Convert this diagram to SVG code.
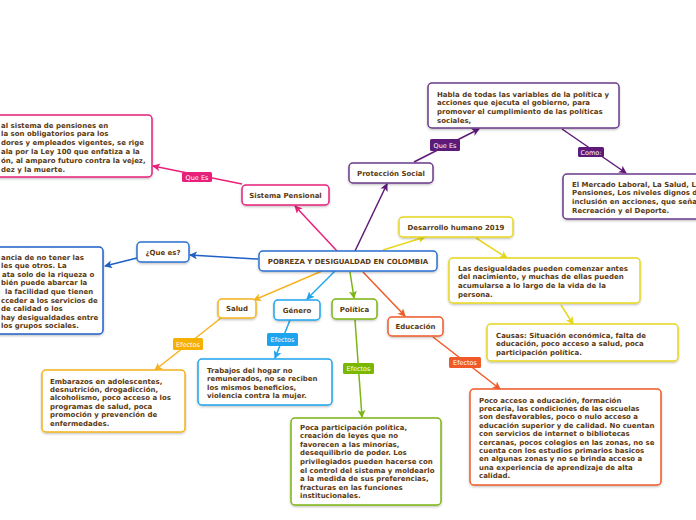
<svg xmlns="http://www.w3.org/2000/svg" width="696" height="520" viewBox="0 0 696 520">
<style>
text{font-family:"DejaVu Sans","Liberation Sans",sans-serif;}
.t{font-size:7px;font-weight:bold;fill:#5b3a12;}
.n{font-size:7px;font-weight:bold;fill:#5b3a12;text-anchor:middle;}
.lb{font-size:6.5px;fill:#ffffff;text-anchor:middle;}
.box{fill:#ffffff;stroke-width:1.5;filter:url(#sh);}
.c{fill:none;stroke-width:1.5;}
</style>
<defs>
<filter id="sh" x="-10%" y="-20%" width="120%" height="150%">
<feDropShadow dx="0" dy="1.2" stdDeviation="0.8" flood-color="#000" flood-opacity="0.25"/>
</filter>
<marker id="aPk" markerWidth="8" markerHeight="8" refX="7" refY="4" orient="auto" markerUnits="userSpaceOnUse"><path d="M0,0 L8,4 L0,8 L2,4 z" fill="#e8207a"/></marker>
<marker id="aPu" markerWidth="8" markerHeight="8" refX="7" refY="4" orient="auto" markerUnits="userSpaceOnUse"><path d="M0,0 L8,4 L0,8 L2,4 z" fill="#5e1a78"/></marker>
<marker id="aYe" markerWidth="8" markerHeight="8" refX="7" refY="4" orient="auto" markerUnits="userSpaceOnUse"><path d="M0,0 L8,4 L0,8 L2,4 z" fill="#e6d81e"/></marker>
<marker id="aBl" markerWidth="8" markerHeight="8" refX="7" refY="4" orient="auto" markerUnits="userSpaceOnUse"><path d="M0,0 L8,4 L0,8 L2,4 z" fill="#1f5fc8"/></marker>
<marker id="aOr" markerWidth="8" markerHeight="8" refX="7" refY="4" orient="auto" markerUnits="userSpaceOnUse"><path d="M0,0 L8,4 L0,8 L2,4 z" fill="#f5b21e"/></marker>
<marker id="aSk" markerWidth="8" markerHeight="8" refX="7" refY="4" orient="auto" markerUnits="userSpaceOnUse"><path d="M0,0 L8,4 L0,8 L2,4 z" fill="#1ea4ee"/></marker>
<marker id="aGr" markerWidth="8" markerHeight="8" refX="7" refY="4" orient="auto" markerUnits="userSpaceOnUse"><path d="M0,0 L8,4 L0,8 L2,4 z" fill="#7cb514"/></marker>
<marker id="aRd" markerWidth="8" markerHeight="8" refX="7" refY="4" orient="auto" markerUnits="userSpaceOnUse"><path d="M0,0 L8,4 L0,8 L2,4 z" fill="#f05a28"/></marker>
</defs>

<g id="connectors">
<line class="c" stroke="#e8207a" x1="337" y1="251" x2="295" y2="206" marker-end="url(#aPk)"/>
<line class="c" stroke="#e8207a" x1="242" y1="184" x2="153" y2="166" marker-end="url(#aPk)"/>
<line class="c" stroke="#5e1a78" x1="355" y1="251" x2="387" y2="184" marker-end="url(#aPu)"/>
<line class="c" stroke="#5e1a78" x1="414" y1="162" x2="479" y2="129" marker-end="url(#aPu)"/>
<line class="c" stroke="#5e1a78" x1="562" y1="129" x2="626" y2="173" marker-end="url(#aPu)"/>
<line class="c" stroke="#e6d81e" x1="383" y1="250" x2="425" y2="237" marker-end="url(#aYe)"/>
<line class="c" stroke="#e6d81e" x1="476" y1="238" x2="507" y2="258" marker-end="url(#aYe)"/>
<line class="c" stroke="#e6d81e" x1="561" y1="305" x2="573" y2="324" marker-end="url(#aYe)"/>
<line class="c" stroke="#1f5fc8" x1="258" y1="259" x2="190" y2="255" marker-end="url(#aBl)"/>
<line class="c" stroke="#1f5fc8" x1="137" y1="258" x2="105" y2="266" marker-end="url(#aBl)"/>
<line class="c" stroke="#f5b21e" x1="322" y1="271" x2="254" y2="300" marker-end="url(#aOr)"/>
<line class="c" stroke="#f5b21e" x1="221" y1="318" x2="155" y2="370" marker-end="url(#aOr)"/>
<line class="c" stroke="#1ea4ee" x1="335" y1="271" x2="307" y2="299" marker-end="url(#aSk)"/>
<line class="c" stroke="#1ea4ee" x1="290" y1="320" x2="275" y2="358" marker-end="url(#aSk)"/>
<line class="c" stroke="#7cb514" x1="350" y1="272" x2="354" y2="298" marker-end="url(#aGr)"/>
<line class="c" stroke="#7cb514" x1="355" y1="320" x2="362" y2="417" marker-end="url(#aGr)"/>
<line class="c" stroke="#f05a28" x1="363" y1="272" x2="405" y2="316" marker-end="url(#aRd)"/>
<line class="c" stroke="#f05a28" x1="433" y1="337" x2="500" y2="389" marker-end="url(#aRd)"/>

<rect x="182" y="172" width="30" height="10" rx="1.5" fill="#e8207a"/>
<text class="lb" x="197" y="179.5">Que Es</text>
<rect x="430" y="139" width="30" height="12" rx="1.5" fill="#5e1a78"/>
<text class="lb" x="445" y="147.5">Que Es</text>
<rect x="578" y="147" width="26" height="10" rx="1.5" fill="#5e1a78"/>
<text class="lb" x="591" y="154.5">Como:</text>
<rect x="173" y="338" width="30" height="12" rx="1.5" fill="#f5b000"/>
<text class="lb" x="188" y="346.5">Efectos</text>
<rect x="267" y="333" width="31" height="13" rx="1.5" fill="#1ea4ee"/>
<text class="lb" x="282.5" y="342">Efectos</text>
<rect x="343" y="363" width="31" height="11" rx="1.5" fill="#7ab800"/>
<text class="lb" x="358.5" y="371">Efectos</text>
<rect x="449" y="357" width="32" height="11" rx="1.5" fill="#f05a28"/>
<text class="lb" x="465" y="365">Efectos</text>
</g>

<g id="n-center">
<rect class="box" x="259" y="251" width="178" height="20" rx="4" stroke="#2a70d0"/>
<text class="n" x="348" y="263.5">POBREZA Y DESIGUALDAD EN COLOMBIA</text>
</g>
<g id="n-sistema">
<rect class="box" x="242" y="185" width="87" height="20" rx="4" stroke="#e8207a"/>
<text class="n" x="285.5" y="197.5">Sistema Pensional</text>
</g>
<g id="n-sistema-def">
<rect class="box" x="-10" y="115" width="162" height="62" rx="4" stroke="#e8207a"/>
<text class="t"><tspan x="1" y="127.5">al sistema de pensiones en</tspan><tspan x="1" y="136.3">la son obligatorios  para los</tspan><tspan x="1" y="145.1">dores y empleados vigentes, se rige</tspan><tspan x="1" y="153.9">ala por la Ley 100 que enfatiza a la</tspan><tspan x="1" y="162.7">ón, al amparo futuro contra la vejez,</tspan><tspan x="1" y="171.5">dez y la muerte.</tspan></text>
</g>
<g id="n-proteccion">
<rect class="box" x="349" y="163" width="84" height="20" rx="4" stroke="#6a3a8a"/>
<text class="n" x="391" y="175.5">Protección Social</text>
</g>
<g id="n-proteccion-def">
<rect class="box" x="428" y="83" width="191" height="45" rx="4" stroke="#6a3a8a"/>
<text class="t"><tspan x="437" y="96.5">Habla de todas las variables de la política y</tspan><tspan x="437" y="105.2">acciones que ejecuta el gobierno, para</tspan><tspan x="437" y="113.9">promover el cumplimiento de las políticas</tspan><tspan x="437" y="122.6">sociales,</tspan></text>
</g>
<g id="n-como">
<rect class="box" x="563" y="174" width="143" height="45" rx="4" stroke="#6a3a8a"/>
<text class="t"><tspan x="572" y="186.5">El Mercado Laboral, La Salud, La</tspan><tspan x="572" y="195.2">Pensiones, Los niveles dignos d</tspan><tspan x="572" y="203.9">inclusión en acciones, que seña</tspan><tspan x="572" y="212.6">Recreación y el Deporte.</tspan></text>
</g>
<g id="n-desarrollo">
<rect class="box" x="399" y="217" width="114" height="20" rx="4" stroke="#e6d81e"/>
<text class="n" x="456" y="229.5">Desarrollo humano 2019</text>
</g>
<g id="n-desigualdades">
<rect class="box" x="449" y="258" width="191" height="45" rx="4" stroke="#e6d81e"/>
<text class="t"><tspan x="458" y="270.5">Las desigualdades pueden comenzar antes</tspan><tspan x="458" y="279.2">del nacimiento, y muchas de ellas pueden</tspan><tspan x="458" y="287.9">acumularse a lo largo de la vida de la</tspan><tspan x="458" y="296.6">persona.</tspan></text>
</g>
<g id="n-causas">
<rect class="box" x="487" y="324" width="191" height="37" rx="4" stroke="#e6d81e"/>
<text class="t"><tspan x="496" y="337.5">Causas: Situación económica, falta de</tspan><tspan x="496" y="346.1">educación, poco acceso a salud, poca</tspan><tspan x="496" y="354.7">participación política.</tspan></text>
</g>
<g id="n-quees">
<rect class="box" x="137" y="242" width="52" height="20" rx="4" stroke="#2a70d0"/>
<text class="n" x="163" y="254.5">¿Que es?</text>
</g>
<g id="n-quees-def">
<rect class="box" x="-10" y="247" width="113" height="87" rx="4" stroke="#1f5fc8"/>
<text class="t"><tspan x="1" y="259.5">ancia de no tener las</tspan><tspan x="1" y="268.1">les que otros. La</tspan><tspan x="2" y="276.7">ata solo de la riqueza o</tspan><tspan x="1" y="285.3">bién puede abarcar la</tspan><tspan x="5" y="293.9">la facilidad que tienen</tspan><tspan x="1" y="302.5">cceder a los servicios de</tspan><tspan x="1" y="311.1">de calidad o los</tspan><tspan x="1" y="319.7">hay desigualdades entre</tspan><tspan x="1" y="328.3">los grupos sociales.</tspan></text>
</g>
<g id="n-salud">
<rect class="box" x="218" y="299" width="38" height="19" rx="4" stroke="#f5b21e"/>
<text class="n" x="237" y="311">Salud</text>
</g>
<g id="n-salud-ef">
<rect class="box" x="42" y="370" width="143" height="62" rx="4" stroke="#f5b21e"/>
<text class="t"><tspan x="50" y="383.5">Embarazos en adolescentes,</tspan><tspan x="50" y="391.9">desnutrición, drogadicción,</tspan><tspan x="50" y="400.3">alcoholismo, poco acceso a los</tspan><tspan x="50" y="408.7">programas de salud, poca</tspan><tspan x="50" y="417.1">promoción y prevención de</tspan><tspan x="50" y="425.5">enfermedades.</tspan></text>
</g>
<g id="n-genero">
<rect class="box" x="274" y="300" width="46" height="20" rx="4" stroke="#1ea4ee"/>
<text class="n" x="297" y="312.5">Género</text>
</g>
<g id="n-genero-ef">
<rect class="box" x="198" y="359" width="134" height="46" rx="4" stroke="#1ea4ee"/>
<text class="t"><tspan x="207" y="372.5">Trabajos del hogar no</tspan><tspan x="207" y="381">remunerados, no se reciben</tspan><tspan x="207" y="389.5">los mismos beneficios,</tspan><tspan x="207" y="398">violencia contra la mujer.</tspan></text>
</g>
<g id="n-politica">
<rect class="box" x="332" y="299" width="45" height="20" rx="4" stroke="#7cb514"/>
<text class="n" x="354.5" y="311.5">Política</text>
</g>
<g id="n-politica-ef">
<rect class="box" x="291" y="418" width="150" height="87" rx="4" stroke="#7cb514"/>
<text class="t"><tspan x="300" y="429.5">Poca participación política,</tspan><tspan x="300" y="438.1">creación de leyes que no</tspan><tspan x="300" y="446.7">favorecen a las minorías,</tspan><tspan x="300" y="455.3">desequilibrio de poder. Los</tspan><tspan x="300" y="463.9">privilegiados pueden hacerse con</tspan><tspan x="300" y="472.5">el control del sistema y moldearlo</tspan><tspan x="300" y="481.1">a la medida de sus preferencias,</tspan><tspan x="300" y="489.7">fracturas en las funciones</tspan><tspan x="300" y="498.3">institucionales.</tspan></text>
</g>
<g id="n-educacion">
<rect class="box" x="388" y="317" width="55" height="19" rx="4" stroke="#f05a28"/>
<text class="n" x="415.5" y="329">Educación</text>
</g>
<g id="n-educacion-ef">
<rect class="box" x="470" y="389" width="191" height="96" rx="4" stroke="#f05a28"/>
<text class="t"><tspan x="479" y="402.5">Poco acceso a educación, formación</tspan><tspan x="479" y="410.9">precaria, las condiciones de las escuelas</tspan><tspan x="479" y="419.3">son desfavorables, poco o nulo acceso a</tspan><tspan x="479" y="427.7">educación superior y de calidad. No cuentan</tspan><tspan x="479" y="436.1">con servicios de internet o bibliotecas</tspan><tspan x="479" y="444.5">cercanas, pocos colegios en las zonas, no se</tspan><tspan x="479" y="452.9">cuenta con los estudios primarios basicos</tspan><tspan x="479" y="461.3">en algunas zonas y no se brinda acceso a</tspan><tspan x="479" y="469.7">una experiencia de aprendizaje de alta</tspan><tspan x="479" y="478.1">calidad.</tspan></text>
</g>
</svg>
